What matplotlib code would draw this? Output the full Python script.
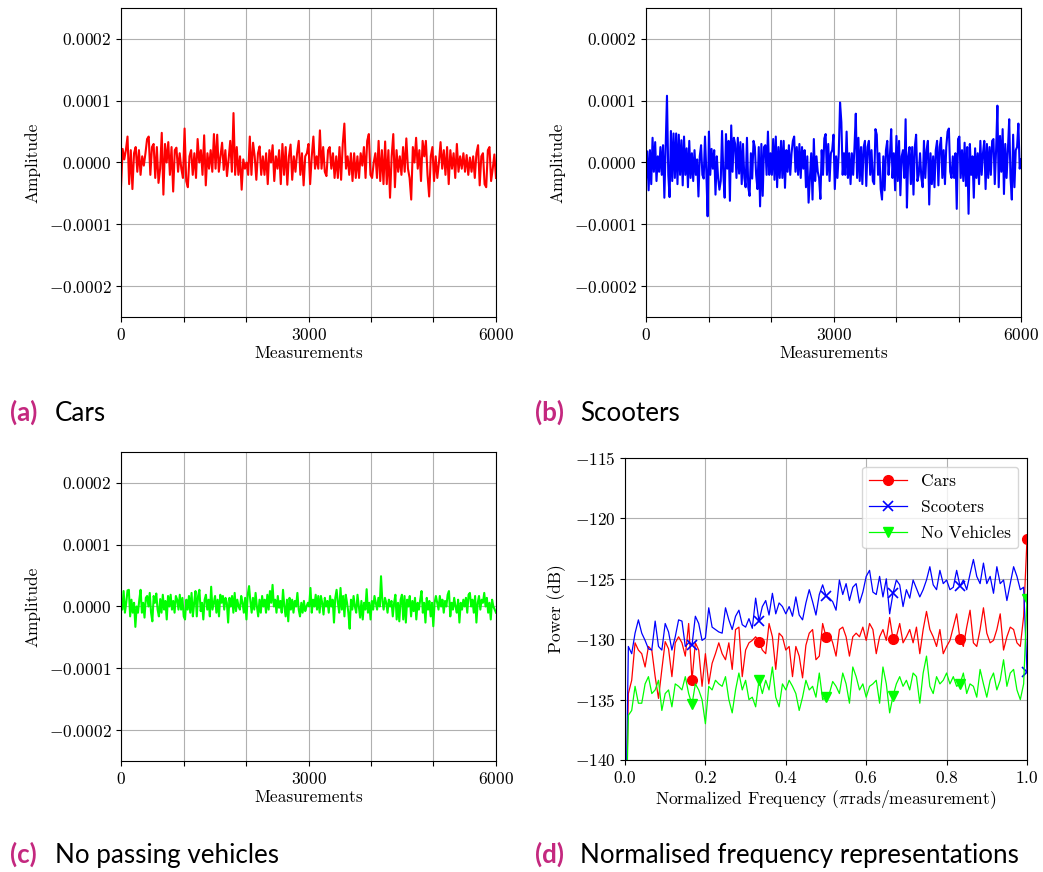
import numpy as np
import matplotlib
matplotlib.use("Agg")
import matplotlib.pyplot as plt

plt.rcParams["font.family"] = "serif"
plt.rcParams["font.serif"] = ["cmr10"]
plt.rcParams["mathtext.fontset"] = "cm"
plt.rcParams["axes.formatter.use_mathtext"] = True

# ---------------------------------------------------------------- data
# time-domain amplitudes, in units of 1e-5
cars_amp = [
    -4, 2.2, 0.5, 2, 4.2, -3.5, 2, -4.3, 1.5, 2.5, -1.5, 2, -2, 1, -0.5, 1.5, 3.8, 4.2, -2, 2.5,
    3, -2.5, 2.5, -3.3, -1, 4.8, -5.2, 3, 0, 3.3, -2, 2.5, -4.7, 2, 2.4, -1.5, 1.5, -1, -2.5, 5.5,
    -3, -4, 1, 2, -2, 1.5, -2.5, 3.8, 0, 2, -2, 4.4, -3.7, 1.5, -1, 2, -1.5, 4.6, -1, 4.5,
    -1.5, 1, 3.2, -1.2, 2, -2.2, 0.5, 3.5, -1.5, 8, -2, 2.5, -2, 1, -4.4, 0.5, -1, 0, -2, 4.2,
    -2, 3.2, 1, -2.8, 1.5, 2.6, -2, 1, -2, 1.5, -3.5, 2, 0, 2.8, -3, 1, -1, 2, -3.5, 3,
    -2, 2.5, -3.6, 1, 2.9, -2.8, 1, -1.5, 1.5, 3.5, -2, 1.5, -3.7, 1, 1.5,
    3, -3.5, 1, 4.2, -1, 1, -1, 5.2, -1, 2.5, -1.5, -2.2, 2, 2.5, -1, 1.5, -2.5, 1, -2.5, 2.5,
    -2.8, 3, 6.3, -1, 1, -2, 1.5, -3, 1.5, -2.5, 1, -2.5, 1.5, -0.5, 2.5, -2.5, 3.5, 4.6, -2, -2.5,
    0, 1.5, -2.5, 3.5, -3, 2, -3.5, 3.4, -3.5, 2, -5.7, 1, 4.6, -4, 2, -1.5, 1, -2, 2.5, -1.5,
    3.9, -1, -2.5, -6, 2.5, 0, 4, -1, 2, -3, 3.5, 1, 3.5, -2, -5.5, 1, 2.5, -3, 1, -2.5,
    0, 3.3, -1, 2, -2, 2.5, -3.5, 2, -1, 1.5, -2.5, 3, -1.5, 1, -1, 1.5, -1.5, 1.2, -2, 0.8,
    -1.5, 1, -2.5, 1.5, 2.8, -3.7, 1, 1.5, -3.5, -4, 2, 2.5, -3, -1, 1.3, -2.5,
]

scooters_amp = [
    -2.8, 1.8, -4.5, 2, -3.5, 4, -1.5, 3.3, -3, 1, -1.5, 2.5, -2, 2.8, -5.7, 2.5, 10.8, -2, -5.6, 5.1,
    -3, 4.7, -2.5, 4.7, -3.5, 4.5, -2, 3.6, -3.7, 4.2, -2, 2.3, -4, 3.5, -2.5, 1.5, -3, 2, -2, 0.5,
    -5.5, 1, 2.8, -2, -2.6, 4.2, -1.5, -8.7, 5, -2, 2.2, -1, 2, -5.2, 1, -2.5, -4.4, -3, 5.1, -2,
    -5.7, 4.6, -1, 3.5, -6.2, 6, -1.5, 4, 3, -2.5, 4, -1.8, 3.3, -3.5, 3, -2.5, -4, 4, -4, -5.4,
    1.5, -2.6, 3.5, 2.5, -2, -4.3, 2.5, -7.1, 3, -5.4, 2.5, 2.8, -2, 5, -2, 1.5, -2, 3.8, -2.8, 4.2,
    -4, 2.5, -2.5, 3.5, -2.5, 3.5, -4.1, 2, -1.5, 2.8, -2, 1.5, 3.5, 4.2, -1.5, 2.5, -2, 3, -2.5, 2.5,
    -1, 2, -4, 1, -6.5, -2.5, 1.5, -6, 3.8, -3, 1, -1.5, -2.5, -5.9, 2, -2, 3.9, 4.6, -2, 3,
    -3, 1.5, 2,
    4.5, -4.3, 1, -2.5, 1.5, 9.7, 6.5, -2, 1.5, -2, 5, -2.5, 1.5, -3.5, 1.5, -2, 2.5, 7.9, -2.5, 4,
    -3, 2.5, -3.5, 2.5, 3.5, -3.8, 2.5, 3.5, -2, 2, -3, -3.5, 5.4, 4.5, -2, 1.5, -4.3, -6, 1, -4.5,
    2, 3.5, -2, 1, 5.4, -2.5, 1.5, -4.5, 4.3, -3, 3.5, -5.3, 1, 2, -2.5, 7, -7.3, 1, 2.5, -3.5,
    2.5, -5.2, 2.5, 4.5, -3, -2, 1.5, -2.5, -4, 3.5, -2.5, 2, 3.5, -6.8, 1.5, -3.5, 1, -4, 2, 3.5,
    -3.7, 2.5, 4, -2.5, 2, -3.5, 2.5, 5, 5.5, -1.5, -2.5, 1, -2.5, 1.5, -7.5, 3.8, 4.2, -2.5, 2, -3,
    3.2, -3.8, 2.5, -8.3, 3, -2, 1, -5.7, 2.3, -2.5, 1.5, -3.5, 3.5, -2, 1.5, 3.5, -4.3, 3, -2.5, 2.5,
    -2, 3.5, 3.8, -3.5, 2, 9.2, -4, 4.3, -1.5, 5.4, -5.1, 3, -2.5, 2, 7, -2.5, -6, 4.5, -4, 2,
    2.5, 6.3, -1, 0.5,
]

none_amp = [
    0, -0.5, 2.5, -1, 0.6, 2.6, 2.7, -1.6, 1.1, -1, 0.6, -3.3, 0, -1, 1.1, 2.7, -1, 0.6, -1.8, 1.4,
    1.7, 0, 2.2, -1, -2.4, 1.7, 0.6, 2.1, -0.5, -1.6, 1.2, -1, 1.9, -0.5, 0.9, -2.1, 1.7, 0, 1.9, -0.5,
    0.9, -1, 1.7, 1.1, -0.5, 1.9, -0.5, 1.4, -1.6, -2.1, 1.1, -0.5, 1.7, -1, 2.2, -1.6, 0.6, 2.5, -1.6, 1.7,
    2.7, -0.75, 0.6, -2.1, 1.1, 1.9, -0.5, 1.1, -1.6, 3.2, -0.5, 0.6, 1.7, -1, 1.1, -1.6, 1.9, 0.6, 1.7, -0.5,
    1.4, 0.6, -2.6, 1.4, 0, 1.7, -1, 2.2, -0.75, 1.1, 0, -0.5, 1.7, 0.6, -1, 1.4, -2.1, 1.9, 3.3, 0.9,
    -1, 1.4, -0.5, 2.2, 0, -1.6, 1.1, -1, 1.7, 0, 1.1, -1, 1.9, -0.5, 2.5, 0.6, 3.5, 0, 1.1, -1,
    1.7, -0.2, 0.9, -1, 2.7, 0, -1.6, 1.1, -2.4, 1.4, -0.5, 1.1, -1, 0.9, 0, 2.2, -0.5, -1.6, 0.6, -1,
    0.9, -0.75, 0, 0.6,
    0, 3.0, -1, 1.1, 0, 1.9, -0.5, 1.7, -1, 1.7, 0.6, -1.3, 1.4, 0, 0.9, -1, 1.7, 0, 1.1, -2.6,
    1.4, 2.7, 0.6, -1, 3.0, -0.5, 1.7, -1.6, 1.9, 0.6, -1, -3.6, 1.1, -0.5, 1.7, 0, -1, 1.9, 0, -1.8,
    0.9, -2.1, 0.6, -0.5, 2.8, -1, 0.6, -2.1, 0.9, -0.5, 1.7, 0.6, -0.5, 1.4, 0, 4.9, 0.9, -0.5, 1.4, 0.6,
    -1, 1.1, 0, 0.9, -1.6, 0.6, 1.9, -2.1, 0.6, -2.4, 1.1, 1.9, -2.1, 1.7, -2.6, 1.1, 0, 1.7, -1.6, 0.9,
    -0.75, 1.4, -2.1, 0.6, -0.5, 1.1, 2.5, -1, 0.6, -2.6, 1.4, -0.5, 0.9, -1.6, 0.6, -3.2, 0.6, 1.7, 0.6, -0.5,
    1.7, 0, 1.1, -1, 0.9, 0, 1.9, 2.5, -1.6, 0.6, -0.5, 1.4, 0, -1, 1.1, -2.6, 0.6, -0.5, 1.1, 0,
    1.4, -1, 1.9, 2.2, 0, 1.1, -1, 1.7, -2.6, 0.6, 1.7, -0.5, 1.1, 0.6, 2.2, 0, 1.4, -1, 0.6, -2.1,
    1.1, 0, -0.5, -1,
]

# power spectral density in dB, frequencies 0 .. 1 (x pi rad/measurement)
cars_db = [
    -150,
    -134.5, -133.4, -130.3, -130.9, -131.2, -132.3, -130.6, -130.9, -133.1, -134.9,
    -132.5, -130.2, -130.8, -133.1, -130.3, -129.8, -130.3, -131.4, -128.7, -133.4,
    -130.3, -130.9, -133.9, -131.2, -133.7, -132.0, -131.2, -130.3, -131.2, -131.7,
    -130.3, -132.5, -129.2, -129.0, -133.1, -130.9, -130.3, -130.1, -129.8, -130.2,
    -130.9, -131.2, -128.7, -129.8, -132.5, -129.5, -129.8, -130.9, -130.6, -133.1,
    -130.6, -131.4, -133.2, -130.5, -129.5, -129.2, -131.7, -131.4, -128.7, -129.8,
    -129.5, -130.3, -131.4, -129.2, -129.0, -129.8, -131.4, -129.8, -129.5, -129.8,
    -129.0, -130.1, -128.7, -129.2, -131.2, -129.8, -129.2, -130.1, -128.2, -130.0,
    -129.8, -128.7, -130.3, -129.8, -129.2, -130.3, -129.0, -131.2, -129.2, -127.7,
    -129.2, -129.8, -130.6, -129.2, -131.2, -130.6, -130.1, -129.0, -127.9, -130.0,
    -130.6, -129.0, -127.6, -130.3, -130.6, -129.2, -127.4, -129.5, -130.3, -130.1,
    -129.2, -127.9, -130.9, -129.8, -129.0, -129.2, -130.3, -130.6, -128.1, -121.7,
]
scooters_db = [
    -150,
    -130.6, -131.2, -129.5, -128.4, -129.5, -130.1, -130.8, -130.9, -128.5, -130.6,
    -130.9, -128.7, -129.4, -130.9, -129.8, -128.4, -128.5, -130.6, -130.3, -130.5,
    -128.1, -128.7, -130.1, -129.9, -127.4, -129.0, -129.2, -129.4, -129.5, -127.4,
    -128.4, -129.2, -128.1, -127.6, -128.8, -129.0, -128.3, -129.1, -126.6, -128.5,
    -127.3, -126.8, -128.0, -126.2, -127.9, -127.0, -127.3, -127.9, -127.3, -128.1,
    -126.5, -128.0, -128.4, -127.0, -125.9, -126.9, -128.0, -126.3, -125.5, -126.4,
    -126.6, -126.9, -127.6, -125.1, -126.3, -125.4, -126.8, -125.7, -125.4, -127.0,
    -126.1, -124.8, -124.3, -126.1, -126.3, -124.8, -126.5, -125.0, -127.9, -126.2,
    -125.1, -125.5, -127.3, -125.9, -126.6, -125.1, -125.8, -126.5, -125.9, -125.1,
    -124.0, -125.5, -125.9, -124.3, -125.4, -125.1, -125.9, -125.7, -124.3, -125.6,
    -125.1, -125.9, -124.6, -123.4, -124.8, -125.4, -123.7, -125.4, -124.8, -126.2,
    -124.0, -125.4, -125.1, -126.8, -125.4, -124.0, -124.8, -125.9, -125.7, -132.7,
]
none_db = [
    -150,
    -136.3, -135.9, -133.9, -135.3, -135.3, -133.7, -133.1, -134.5, -134.2, -133.4,
    -135.9, -134.5, -134.2, -135.6, -133.7, -133.9, -134.2, -133.1, -134.5, -135.4,
    -133.7, -134.2, -135.0, -137.0, -133.9, -134.2, -133.4, -133.7, -133.9, -133.1,
    -135.0, -136.1, -134.2, -132.8, -134.2, -133.4, -135.0, -134.8, -135.6, -133.4,
    -134.5, -133.4, -134.2, -132.3, -134.8, -135.6, -133.7, -134.2, -133.4, -133.9,
    -134.5, -135.9, -134.8, -133.4, -134.2, -133.9, -134.8, -132.8, -135.0, -134.8,
    -134.5, -133.5, -133.9, -134.5, -132.8, -133.7, -135.3, -132.3, -133.1, -134.2,
    -133.7, -134.8, -133.9, -133.7, -133.4, -135.3, -132.3, -133.7, -136.1, -134.7,
    -133.7, -133.1, -133.9, -133.4, -134.2, -132.8, -133.1, -135.3, -132.8, -131.4,
    -133.9, -134.5, -133.1, -133.7, -133.4, -132.8, -133.7, -133.1, -133.9, -133.7,
    -132.8, -134.5, -133.7, -133.9, -134.8, -132.5, -133.7, -134.8, -133.4, -132.8,
    -134.2, -133.4, -131.7, -133.9, -132.8, -132.5, -134.2, -135.0, -133.7, -126.7,
]

amp_ticks = [-0.0002, -0.0001, 0.0, 0.0001, 0.0002]
amp_tick_labels = [r"$-0.0002$", r"$-0.0001$", r"$0.0000$", r"$0.0001$", r"$0.0002$"]
meas_ticks = [0, 1000, 2000, 3000, 4000, 5000, 6000]
meas_tick_labels = [r"$0$", "", "", r"$3000$", "", "", r"$6000$"]
freq_ticks = [0.0, 0.2, 0.4, 0.6, 0.8, 1.0]
freq_tick_labels = [r"$0.0$", r"$0.2$", r"$0.4$", r"$0.6$", r"$0.8$", r"$1.0$"]
db_ticks = [-140, -135, -130, -125, -120, -115]
db_tick_labels = [r"$-140$", r"$-135$", r"$-130$", r"$-125$", r"$-120$", r"$-115$"]

captions = [("(a)", "Cars"), ("(b)", "Scooters"),
            ("(c)", "No passing vehicles"), ("(d)", "Normalised frequency representations")]

# ---------------------------------------------------------------- figure
W, H = 1043, 872
fig = plt.figure(figsize=(W / 100, H / 100), dpi=100)

def px_axes(left, top, right, bottom):
    return fig.add_axes([left / W, 1 - bottom / H, (right - left) / W, (bottom - top) / H])

FS = 12.5

def time_panel(ax, values, color):
    y = np.asarray(values) * 1e-5
    x = np.linspace(0, 6000, len(y))
    ax.plot(x, y, color=color, lw=1.5)
    ax.set_xlim(0, 6000)
    ax.set_ylim(-0.00025, 0.00025)
    ax.set_xticks(meas_ticks)
    ax.set_xticklabels(meas_tick_labels, fontsize=FS)
    ax.set_yticks(amp_ticks)
    ax.set_yticklabels(amp_tick_labels, fontsize=FS)
    ax.set_xlabel("Measurements", fontsize=FS, labelpad=2)
    ax.set_ylabel("Amplitude", fontsize=FS, labelpad=6)
    ax.grid(True, color="#b0b0b0", lw=0.8)
    ax.set_axisbelow(True)

ax_a = px_axes(121, 8, 496, 317)
time_panel(ax_a, cars_amp, "#ff0000")
ax_b = px_axes(646, 8, 1021, 317)
time_panel(ax_b, scooters_amp, "#0000ff")
ax_c = px_axes(121, 452, 496, 761)
time_panel(ax_c, none_amp, "#00ff00")

ax_d = px_axes(625, 458, 1027, 760)
freq = np.linspace(0, 1, len(cars_db))
ax_d.plot(freq, cars_db, color="#ff0000", lw=0.9, marker="o", ms=7, markevery=20, label="Cars")
ax_d.plot(freq, scooters_db, color="#0000ff", lw=0.9, marker="x", ms=7, mew=1.2, markevery=20,
          label="Scooters")
ax_d.plot(freq, none_db, color="#00ff00", lw=0.9, marker="v", ms=7, markevery=20,
          label="No Vehicles")
ax_d.set_xlim(0, 1)
ax_d.set_ylim(-140, -115)
ax_d.set_xticks(freq_ticks)
ax_d.set_xticklabels(freq_tick_labels, fontsize=FS)
ax_d.set_yticks(db_ticks)
ax_d.set_yticklabels(db_tick_labels, fontsize=FS)
ax_d.set_xlabel(r"Normalized Frequency ($\pi$rads/measurement)", fontsize=FS, labelpad=2)
ax_d.set_ylabel("Power (dB)", fontsize=FS, labelpad=6)
ax_d.grid(True, color="#b0b0b0", lw=0.8)
ax_d.set_axisbelow(True)
ax_d.legend(loc="upper right", fontsize=FS, handlelength=2.2, labelspacing=0.62)

# ---------------------------------------------------------------- captions
cap_pos = [(10, 420.5), (535, 420.5), (10, 862.5), (535, 862.5)]
for (tag, text), (x0, yb) in zip(captions, cap_pos):
    fig.text(x0 / W, 1 - yb / H, tag, fontsize=18.7, fontweight="bold", color="#c4287f",
             family="Lato", va="baseline", ha="left")
    fig.text((x0 + 45) / W, 1 - yb / H, text, fontsize=18.7, color="black",
             family="Lato", va="baseline", ha="left")

fig.savefig("out.png", dpi=100)
